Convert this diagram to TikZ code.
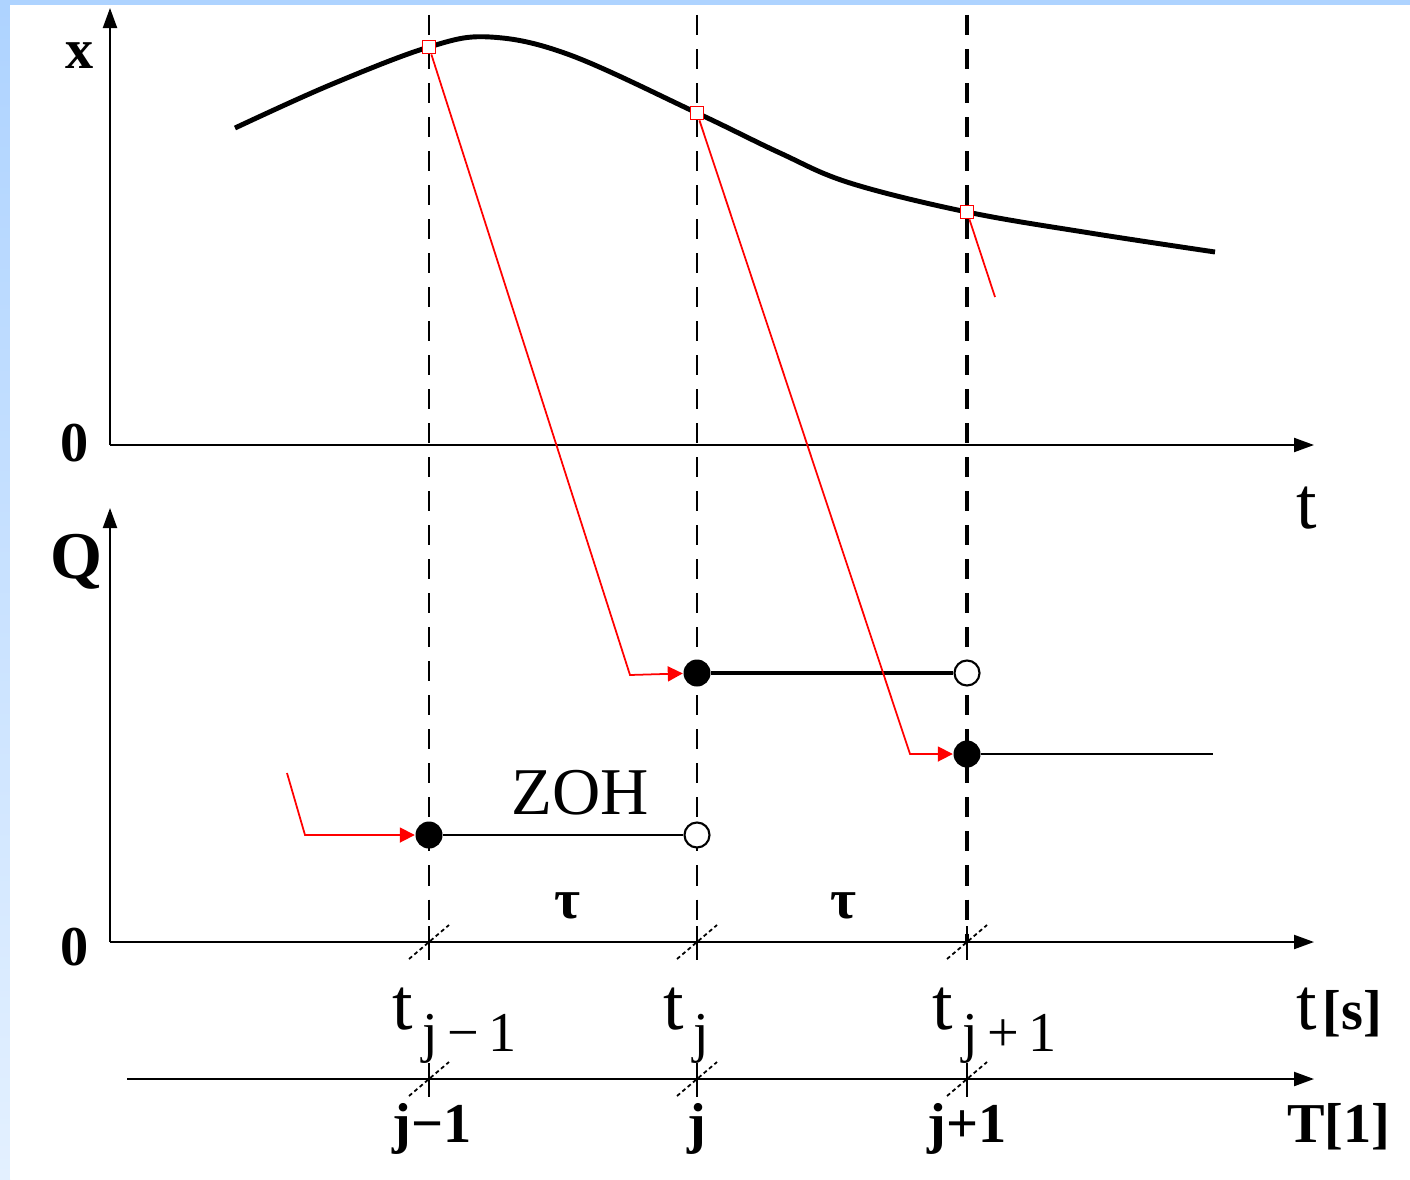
\documentclass[tikz,border=0pt]{standalone}
\usepackage{fontspec}
\setmainfont{Liberation Serif}
\usetikzlibrary{arrows.meta}
\definecolor{slide}{HTML}{AED3FF}
\definecolor{slidelow}{HTML}{E3F0FF}
\begin{document}
\begin{tikzpicture}[x=0.01cm, y=-0.01cm,
  axis/.style={line width=0.6pt, -{Triangle[length=0.2cm, width=0.14cm]}},
  guide/.style={line width=0.6pt, dash pattern=on 0.2cm off 0.14cm},
  tick/.style={line width=0.5pt, dash pattern=on 0.04cm off 0.03cm},
  curve/.style={line width=1.4pt},
  samp/.style={red, line width=0.5pt},
  reach/.style={samp, -{Triangle[length=0.15cm, width=0.15cm]}},
  samplebox/.style={draw=red, fill=white, rectangle, inner sep=0pt, minimum size=0.13cm, line width=0.5pt},
  dot/.style={circle, fill=black, inner sep=0pt, minimum size=0.27cm},
  hole/.style={circle, draw, fill=white, inner sep=0pt, minimum size=0.25cm, line width=0.6pt},
  hold/.style={line width=0.6pt},
  lab/.style={font=\fontsize{16pt}{18pt}\selectfont\bfseries},
  txt/.style={font=\fontsize{16pt}{18pt}\selectfont},
  big/.style={font=\fontsize{21pt}{23pt}\selectfont, inner sep=0pt, anchor=base west}]
  \useasboundingbox (0,0) rectangle (1410,1179);
  \fill [slide] (0,0) rectangle (1410,1179);
  \shade [top color=slide, bottom color=slidelow] (0,5) rectangle (10,1179);
  \fill [white] (10,5) rectangle (1410,1179);

  \foreach \x in {429,697} \draw [guide] (\x,15) -- (\x,942);
  \draw [guide, line width=1pt] (967,15) -- (967,942);

  \coordinate (o1) at (110,445);
  \coordinate (y1) at (110,8);
  \coordinate (x1) at (1314,445);
  \coordinate (o2) at (110,942);
  \coordinate (y2) at (110,508);
  \coordinate (x2) at (1314,942);
  \coordinate (o3) at (127,1079);
  \coordinate (x3) at (1314,1079);
  \draw [axis] (o1) -- (y1);
  \draw [axis] (o1) -- (x1);
  \draw [axis] (o2) -- (y2);
  \draw [axis] (o2) -- (x2);
  \draw [axis] (o3) -- (x3);

  \foreach \x in {429,697,967} {
    \foreach \y in {942,1079} {
      \draw [line width=0.6pt] (\x,\y-16) -- (\x,\y+18);
      \draw [tick] (\x-20,\y+17) -- (\x+20,\y-17);
    }
  }

  \draw [curve] plot [smooth, tension=0.6] coordinates {(235,128) (330,85) (429,47) (490,37) (570,55) (697,113) (780,153) (850,183) (967,212) (1090,233) (1215,252)};

  \node [dot] (d1) at (429,835) {};
  \node [hole] (h1) at (697,835) {};
  \node [dot] (d2) at (697,673) {};
  \node [hole] (h2) at (967,673) {};
  \node [dot] (d3) at (967,754) {};
  \coordinate (e3) at (1213,754);
  \draw [hold] (d1) -- (h1);
  \draw [hold, line width=1.1pt] (d2) -- (h2);
  \draw [hold] (d3) -- (e3);

  \node [samplebox] (s1) at (429,47) {};
  \node [samplebox] (s2) at (697,113) {};
  \node [samplebox] (s3) at (967,212) {};
  \coordinate (a0) at (287,773);
  \coordinate (b0) at (305,835);
  \coordinate (b1) at (630,675);
  \coordinate (b2) at (910,754);
  \coordinate (b3) at (995,297);
  \draw [reach] (a0) -- (b0) -- (d1);
  \draw [reach] (s1) -- (b1) -- (d2);
  \draw [reach] (s2) -- (b2) -- (d3);
  \draw [samp] (s3) -- (b3);

  \node [lab] (xl) at (80,56) {x};
  \node [lab] (z1) at (75,443) {0};
  \node [big] (tl) at (1296,528) {t};
  \node [lab, font=\fontsize{19pt}{21pt}\selectfont\bfseries] (ql) at (76,562) {Q};
  \node [lab] (z2) at (75,947) {0};
  \node [txt, font=\fontsize{19pt}{21pt}\selectfont] (zoh) at (580,793) {ZOH};
  \node [lab] (tau1) at (567,906) {τ};
  \node [lab] (tau2) at (843,906) {τ};
  \node [big] (ta) at (392,1029) {t\raisebox{-6.3pt}{\fontsize{16pt}{18pt}\selectfont\,j\,−\,1}};
  \node [big] (tb) at (663,1029) {t\raisebox{-6.3pt}{\fontsize{16pt}{18pt}\selectfont\,j}};
  \node [big] (tc) at (932,1029) {t\raisebox{-6.3pt}{\fontsize{16pt}{18pt}\selectfont\,j\,+\,1}};
  \node [big] (ts) at (1296,1029) {t\kern1.5pt{\fontsize{16pt}{18pt}\selectfont\bfseries[s]}};
  \node [lab] (ja) at (432,1129) {j−1};
  \node [lab] (jb) at (697,1129) {j};
  \node [lab] (jc) at (967,1129) {j+1};
  \node [lab] (tt) at (1339,1127) {T[1]};
\end{tikzpicture}
\end{document}
